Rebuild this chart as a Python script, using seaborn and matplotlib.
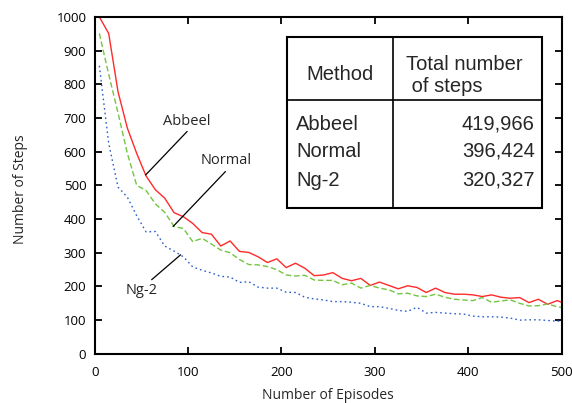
#!/usr/bin/env python3

import matplotlib
matplotlib.use("Agg")
import matplotlib.pyplot as plt
import seaborn as sns
import pandas as pd

# episode bins (centre of each 10-episode window, plus the end point)
episodes = list(range(5, 500, 10)) + [500]

abbeel = [1000, 951, 778, 670, 595, 528, 487, 462, 419, 407,
          387, 360, 355, 320, 335, 304, 301, 288, 271, 282,
          256, 269, 254, 232, 234, 241, 224, 217, 224, 203,
          213, 203, 193, 202, 197, 182, 195, 182, 177, 177,
          175, 170, 175, 168, 165, 167, 152, 162, 147, 158, 153]
normal = [951, 830, 715, 595, 500, 485, 445, 420, 378, 372,
          333, 343, 326, 308, 300, 280, 265, 264, 259, 250,
          234, 231, 233, 219, 218, 218, 205, 210, 195, 203,
          195, 190, 178, 180, 172, 170, 177, 168, 162, 160,
          158, 167, 153, 157, 160, 150, 142, 143, 148, 140, 138]
ng2 = [855, 625, 495, 465, 410, 362, 363, 320, 305, 288,
       258, 248, 240, 230, 228, 212, 214, 198, 195, 195,
       183, 182, 168, 163, 160, 155, 155, 153, 150, 140,
       140, 135, 129, 126, 138, 121, 123, 121, 119, 118,
       112, 110, 110, 109, 106, 100, 101, 101, 99, 97, 97]

methods = ["Abbeel", "Normal", "Ng-2"]
totals = ["419,966", "396,424", "320,327"]

x_ticks = [0, 100, 200, 300, 400, 500]
y_ticks = list(range(0, 1001, 100))


def makeFrame() -> pd.DataFrame:
    parts = []
    for name, vals in zip(methods, [abbeel, normal, ng2]):
        parts.append(pd.DataFrame({"Episode": episodes, "Steps": vals, "Method": name}))
    return pd.concat(parts, ignore_index=True)


def main():
    sns.set_style("ticks")
    plt.rcParams["font.family"] = ["Open Sans", "DejaVu Sans"]

    df = makeFrame()
    fig = plt.figure(figsize=(5.72, 4.03), dpi=100)
    ax = fig.add_axes([0.1655, 0.122, 0.8165, 0.836])

    styles = {"Abbeel": ("#ff2a2a", "-"),
              "Normal": ("#72c640", (0, (4, 2))),
              "Ng-2": ("#2f62c8", (0, (1.2, 2.2)))}
    for name in methods:
        color, ls = styles[name]
        sns.lineplot(data=df[df["Method"] == name], x="Episode", y="Steps",
                     color=color, linestyle=ls, linewidth=1.0, ax=ax)

    ax.set_xlim(0, 500)
    ax.set_ylim(0, 1000)
    ax.set_xticks(x_ticks)
    ax.set_yticks(y_ticks)
    ax.tick_params(direction="in", top=True, right=True, length=5,
                   width=1.3, labelsize=9.5, pad=6, colors="black")
    ax.tick_params(axis="x", pad=9)
    for s in ax.spines.values():
        s.set_visible(True)
        s.set_linewidth(1.5)
        s.set_color("black")
    ax.set_xlabel("Number of Episodes", fontsize=10)
    ax.set_ylabel("Number of Steps", fontsize=10)
    ax.xaxis.set_label_coords(0.5, -0.1)
    ax.yaxis.set_label_coords(-0.142, 0.49)

    # curve labels
    lineprops = dict(arrowstyle="-", color="black", lw=0.9, shrinkA=0, shrinkB=0)
    ax.text(99, 689, "Abbeel", fontsize=10.5, ha="center", va="center")
    ax.annotate("", xy=(54.6, 531), xytext=(99, 660), arrowprops=lineprops)
    ax.text(141, 573, "Normal", fontsize=10.5, ha="center", va="center")
    ax.annotate("", xy=(84, 378), xytext=(140, 541), arrowprops=lineprops)
    ax.text(50, 187, "Ng-2", fontsize=10.5, ha="center", va="center")
    ax.annotate("", xy=(92, 294), xytext=(61, 220), arrowprops=lineprops)

    # totals table drawn in axes fraction
    tf = ax.transAxes
    x0, x1, xd = 0.412, 0.957, 0.639
    y0, y1, yd = 0.434, 0.940, 0.754
    ax.add_patch(plt.Rectangle((x0, y0), x1 - x0, y1 - y0, transform=tf,
                               facecolor="white", edgecolor="black", lw=1.5, zorder=5))
    ax.plot([xd, xd], [y0, y1], transform=tf, color="black", lw=1.2, zorder=6)
    ax.plot([x0, x1], [yd, yd], transform=tf, color="black", lw=1.2, zorder=6)

    tfont = dict(family=["Liberation Sans", "DejaVu Sans"], fontsize=14.5, zorder=7, transform=tf)
    ax.text(0.525, 0.812, "Method", ha="center", va="baseline", **tfont)
    ax.text(0.666, 0.843, "Total number", ha="left", va="baseline", **tfont)
    ax.text(0.666, 0.778, " of steps", ha="left", va="baseline", **tfont)
    rows_y = [0.665, 0.585, 0.499]
    for name, tot, yy in zip(methods, totals, rows_y):
        ax.text(0.432, yy, name, ha="left", va="baseline", **tfont)
        ax.text(0.942, yy, tot, ha="right", va="baseline", **tfont)

    fig.savefig("out.png", dpi=100)


if __name__ == "__main__":
    main()
